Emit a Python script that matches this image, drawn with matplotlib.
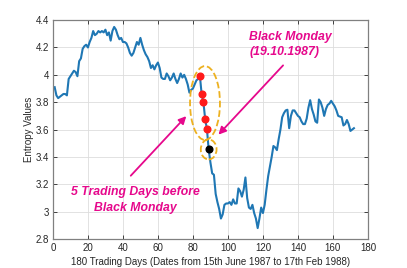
import matplotlib.pyplot as plt
from matplotlib.patches import Ellipse
import numpy as np

plt.rcParams['font.family'] = ['Liberation Sans', 'DejaVu Sans']

# Entropy values for each trading day
days = list(range(1, 173))
entropy = [
    3.91, 3.85, 3.83, 3.84, 3.85, 3.86, 3.86, 3.85, 3.97, 3.99,
    4.01, 4.03, 4.02, 3.99, 4.10, 4.12, 4.19, 4.21, 4.22, 4.20,
    4.24, 4.27, 4.32, 4.29, 4.30, 4.32, 4.31, 4.32, 4.31, 4.33,
    4.29, 4.31, 4.25, 4.32, 4.35, 4.33, 4.29, 4.26, 4.27, 4.24,
    4.24, 4.23, 4.20, 4.16, 4.14, 4.16, 4.20, 4.24, 4.22, 4.27,
    4.22, 4.18, 4.15, 4.13, 4.10, 4.05, 4.07, 4.04, 4.07, 4.09,
    4.05, 3.98, 3.97, 3.97, 4.01, 3.99, 3.96, 3.98, 4.01, 3.97,
    3.94, 3.97, 4.01, 3.98, 4.00, 3.97, 3.93, 3.87, 3.89, 3.90,
    3.93, 3.96, 3.97, 3.99, 3.857, 3.80, 3.677, 3.604, 3.455, 3.36,
    3.28, 3.27, 3.13, 3.07, 3.02, 2.95, 2.98, 3.05, 3.06, 3.06,
    3.07, 3.05, 3.09, 3.06, 3.06, 3.17, 3.15, 3.11, 3.16, 3.25,
    3.10, 3.03, 3.02, 3.05, 2.99, 2.95, 2.88, 2.95, 3.03, 2.99,
    3.05, 3.16, 3.26, 3.33, 3.40, 3.48, 3.47, 3.45, 3.53, 3.60,
    3.69, 3.72, 3.74, 3.745, 3.61, 3.70, 3.74, 3.74, 3.72, 3.70,
    3.69, 3.66, 3.64, 3.64, 3.68, 3.76, 3.815, 3.75, 3.71, 3.66,
    3.65, 3.82, 3.80, 3.76, 3.70, 3.75, 3.78, 3.79, 3.81, 3.79,
    3.77, 3.74, 3.70, 3.695, 3.69, 3.63, 3.64, 3.67, 3.64, 3.59,
    3.60, 3.61,
]

# 5 days before and the crash day itself
before_days = [84, 85, 86, 87, 88]
black_monday = 89

xticks = list(range(0, 181, 20))
yticks = [2.8, 3.0, 3.2, 3.4, 3.6, 3.8, 4.0, 4.2, 4.4]
ytick_labels = ['2.8', '3', '3.2', '3.4', '3.6', '3.8', '4', '4.2', '4.4']

blue = '#1F77B4'
pink = '#E6088C'
gold = '#EDB120'

fig = plt.figure(figsize=(4.07, 2.68), dpi=100)
ax = fig.add_axes([0.130, 0.108, 0.774, 0.817])

ax.plot(days, entropy, color=blue, linewidth=1.5, zorder=2)

before_vals = [entropy[d - 1] for d in before_days]
ax.plot(before_days, before_vals, 'o', color='#FF1A1A', markersize=4.8, zorder=3)
ax.plot(black_monday, entropy[black_monday - 1], 'o', color='black', markersize=4.8, zorder=3)

# dashed rings round the marked days
ax.add_patch(Ellipse((86.9, 3.794), 17.1, 0.54, fill=False, edgecolor=gold,
                     linestyle='--', linewidth=1.3, zorder=4))
ax.add_patch(Ellipse((89.0, 3.455), 9.0, 0.146, fill=False, edgecolor=gold,
                     linestyle='--', linewidth=1.3, zorder=4))

ax.annotate('', xy=(93.5, 3.548), xytext=(132.6, 4.084),
            arrowprops=dict(arrowstyle='-|>', color=pink, lw=1.3, mutation_scale=11))
ax.annotate('', xy=(77.3, 3.713), xytext=(43.4, 3.248),
            arrowprops=dict(arrowstyle='-|>', color=pink, lw=1.3, mutation_scale=11))

ax.text(112.2, 4.221, 'Black Monday\n(19.10.1987)', color=pink, fontsize=8.8,
        fontweight='bold', fontstyle='italic', ha='left', va='center', linespacing=1.35)
ax.text(47, 3.085, '5 Trading Days before\nBlack Monday', color=pink, fontsize=8.8,
        fontweight='bold', fontstyle='italic', ha='center', va='center', linespacing=1.35)

ax.set_xlim(0, 180)
ax.set_ylim(2.8, 4.4)
ax.set_xticks(xticks)
ax.set_yticks(yticks)
ax.set_yticklabels(ytick_labels)
ax.grid(True, color='#DDDDDD', linewidth=0.6)
ax.set_axisbelow(True)
ax.tick_params(direction='in', length=3, width=0.6, colors='#262626', labelsize=7,
               top=True, right=True, pad=3)
for tl in ax.get_xticklabels() + ax.get_yticklabels():
    tl.set_color('#262626')
for s in ax.spines.values():
    s.set_color('#808080')
    s.set_linewidth(0.9)

ax.set_xlabel('180 Trading Days (Dates from 15th June 1987 to 17th Feb 1988)',
              fontsize=7, color='#262626', labelpad=3)
ax.set_ylabel('Entropy Values', fontsize=7, color='#262626', labelpad=1)

plt.savefig('out.png', dpi=100)
plt.close()
